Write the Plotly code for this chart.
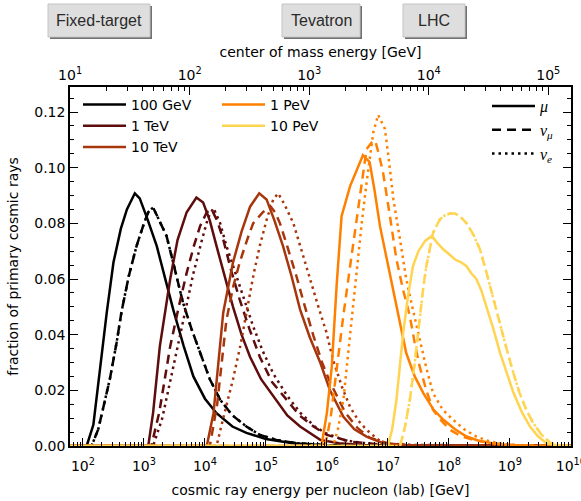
import plotly.graph_objects as go

# ---------------- data (log10 of lab energy per nucleon [GeV], fraction) ----------------
primary_labels = ["100 GeV", "1 TeV", "10 TeV", "1 PeV", "10 PeV"]
primary_colors = ["#000000", "#5e0c0c", "#a8360c", "#ff8000", "#ffd451"]

# 100 GeV
gev100_mu_logE = [1.79, 2.06, 2.17, 2.28, 2.39, 2.50, 2.62, 2.72, 2.85, 2.93, 3.05, 3.21, 3.35, 3.48, 3.65, 3.81, 4.00, 4.19, 4.45, 4.68, 5.00, 5.44, 6.00, 10.0]
gev100_mu_frac = [0.0, 0.0, 0.0076, 0.028, 0.048, 0.066, 0.078, 0.085, 0.0908, 0.089, 0.082, 0.0718, 0.060, 0.049, 0.036, 0.025, 0.017, 0.0118, 0.007, 0.0047, 0.0025, 0.001, 0.0002, 0.0]
gev100_numu_logE = [1.79, 2.14, 2.25, 2.35, 2.44, 2.55, 2.63, 2.75, 2.88, 3.00, 3.07, 3.15, 3.25, 3.37, 3.50, 3.64, 3.78, 3.92, 4.08, 4.25, 4.45, 4.68, 4.90, 5.17, 5.50, 6.00, 10.0]
gev100_numu_frac = [0.0, 0.0, 0.006, 0.015, 0.024, 0.037, 0.048, 0.061, 0.072, 0.080, 0.084, 0.0857, 0.081, 0.0755, 0.064, 0.0515, 0.042, 0.0335, 0.024, 0.0166, 0.011, 0.007, 0.004, 0.0022, 0.001, 0.0003, 0.0]
gev100_nue_logE = [1.79, 2.14, 2.25, 2.35, 2.44, 2.55, 2.63, 2.75, 2.88, 3.00, 3.07, 3.15, 3.25, 3.37, 3.50, 3.64, 3.78, 3.92, 4.08, 4.25, 4.45, 4.68, 4.90, 5.17, 5.50, 6.00, 10.0]
gev100_nue_frac = [0.0, 0.0, 0.006, 0.015, 0.024, 0.037, 0.048, 0.061, 0.072, 0.080, 0.084, 0.0857, 0.081, 0.0755, 0.064, 0.0515, 0.042, 0.0335, 0.024, 0.0166, 0.011, 0.007, 0.004, 0.0022, 0.001, 0.0003, 0.0]

# 1 TeV
tev1_mu_logE = [1.79, 3.07, 3.15, 3.26, 3.43, 3.55, 3.70, 3.86, 3.97, 4.08, 4.19, 4.32, 4.46, 4.60, 4.74, 4.92, 5.12, 5.35, 5.56, 5.89, 6.20, 6.60, 10.0]
tev1_mu_frac = [0.0, 0.0, 0.012, 0.0358, 0.060, 0.074, 0.084, 0.0893, 0.0875, 0.081, 0.0718, 0.061, 0.050, 0.040, 0.032, 0.024, 0.0178, 0.011, 0.007, 0.0022, 0.001, 0.0003, 0.0]
tev1_numu_logE = [1.79, 3.12, 3.25, 3.43, 3.57, 3.70, 3.82, 3.92, 4.03, 4.11, 4.20, 4.30, 4.43, 4.57, 4.73, 4.90, 5.10, 5.34, 5.55, 5.78, 6.00, 6.40, 7.00, 10.0]
tev1_numu_frac = [0.0, 0.0, 0.012, 0.0358, 0.050, 0.0622, 0.072, 0.079, 0.084, 0.085, 0.081, 0.0742, 0.063, 0.0526, 0.042, 0.032, 0.023, 0.0166, 0.011, 0.007, 0.004, 0.0015, 0.0003, 0.0]
tev1_nue_logE = [1.79, 3.15, 3.30, 3.48, 3.65, 3.81, 3.95, 4.05, 4.14, 4.25, 4.35, 4.46, 4.62, 4.79, 4.95, 5.12, 5.35, 5.56, 5.80, 5.99, 6.30, 6.80, 10.0]
tev1_nue_frac = [0.0, 0.0, 0.010, 0.0286, 0.046, 0.062, 0.074, 0.082, 0.0855, 0.080, 0.072, 0.0646, 0.054, 0.043, 0.034, 0.026, 0.018, 0.012, 0.007, 0.0045, 0.002, 0.0005, 0.0]

# 10 TeV
tev10_mu_logE = [1.79, 4.03, 4.14, 4.22, 4.30, 4.46, 4.60, 4.74, 4.89, 5.01, 5.14, 5.28, 5.42, 5.56, 5.72, 5.89, 6.05, 6.27, 6.45, 6.65, 6.90, 7.30, 10.0]
tev10_mu_frac = [0.0, 0.0, 0.0118, 0.030, 0.048, 0.066, 0.077, 0.086, 0.0908, 0.0886, 0.081, 0.0718, 0.061, 0.049, 0.039, 0.030, 0.020, 0.0105, 0.006, 0.0034, 0.0012, 0.0003, 0.0]
tev10_numu_logE = [1.79, 4.08, 4.20, 4.35, 4.46, 4.57, 4.69, 4.79, 4.95, 5.07, 5.15, 5.23, 5.36, 5.50, 5.64, 5.78, 5.92, 6.05, 6.30, 6.50, 6.70, 7.00, 7.40, 10.0]
tev10_numu_frac = [0.0, 0.0, 0.015, 0.045, 0.057, 0.066, 0.074, 0.080, 0.084, 0.0862, 0.084, 0.080, 0.071, 0.061, 0.050, 0.0395, 0.030, 0.023, 0.012, 0.0065, 0.003, 0.001, 0.0002, 0.0]
tev10_nue_logE = [1.79, 4.19, 4.30, 4.46, 4.58, 4.68, 4.80, 4.90, 5.02, 5.12, 5.20, 5.30, 5.45, 5.56, 5.72, 5.86, 5.99, 6.10, 6.25, 6.38, 6.52, 6.65, 6.80, 6.92, 7.20, 10.0]
tev10_nue_frac = [0.0, 0.0, 0.010, 0.024, 0.036, 0.048, 0.062, 0.072, 0.082, 0.0886, 0.0908, 0.087, 0.080, 0.072, 0.060, 0.050, 0.041, 0.031, 0.021, 0.014, 0.009, 0.0058, 0.003, 0.001, 0.0003, 0.0]

# 1 PeV
pev1_mu_logE = [1.79, 5.91, 6.00, 6.08, 6.16, 6.24, 6.38, 6.48, 6.59, 6.70, 6.78, 6.87, 6.98, 7.09, 7.20, 7.30, 7.44, 7.58, 7.75, 7.91, 8.10, 8.29, 8.50, 8.85, 9.30, 10.0]
pev1_mu_frac = [0.0, 0.0, 0.012, 0.0286, 0.058, 0.0826, 0.0934, 0.099, 0.1045, 0.102, 0.092, 0.079, 0.067, 0.055, 0.044, 0.0334, 0.025, 0.019, 0.013, 0.0094, 0.006, 0.0034, 0.0018, 0.0005, 0.0001, 0.0]
pev1_numu_logE = [1.79, 5.97, 6.06, 6.16, 6.27, 6.38, 6.46, 6.54, 6.60, 6.65, 6.73, 6.79, 6.85, 6.92, 7.03, 7.14, 7.25, 7.36, 7.44, 7.52, 7.63, 7.74, 7.88, 8.02, 8.20, 8.40, 8.70, 9.10, 10.0]
pev1_numu_frac = [0.0, 0.0, 0.010, 0.0286, 0.047, 0.0646, 0.077, 0.0886, 0.099, 0.1067, 0.109, 0.1098, 0.105, 0.0983, 0.083, 0.067, 0.056, 0.0466, 0.037, 0.0286, 0.020, 0.013, 0.009, 0.0058, 0.0035, 0.0022, 0.001, 0.0003, 0.0]
pev1_nue_logE = [1.79, 6.10, 6.18, 6.27, 6.38, 6.49, 6.57, 6.65, 6.76, 6.84, 6.95, 7.02, 7.09, 7.20, 7.30, 7.41, 7.52, 7.63, 7.74, 7.90, 8.07, 8.25, 8.45, 8.65, 8.85, 9.20, 10.0]
pev1_nue_frac = [0.0, 0.0, 0.006, 0.0166, 0.040, 0.0646, 0.080, 0.0946, 0.1127, 0.119, 0.114, 0.102, 0.0886, 0.074, 0.060, 0.049, 0.038, 0.028, 0.019, 0.013, 0.0094, 0.006, 0.0034, 0.0018, 0.0008, 0.0002, 0.0]

# 10 PeV
pev10_mu_logE = [1.79, 7.00, 7.07, 7.14, 7.25, 7.33, 7.41, 7.50, 7.61, 7.72, 7.81, 7.91, 8.00, 8.10, 8.20, 8.29, 8.37, 8.45, 8.53, 8.62, 8.73, 8.84, 8.95, 9.06, 9.20, 9.33, 9.46, 9.60, 9.80, 10.0]
pev10_mu_frac = [0.0, 0.0, 0.006, 0.0166, 0.0406, 0.054, 0.0646, 0.070, 0.0737, 0.0755, 0.073, 0.0706, 0.069, 0.067, 0.066, 0.0646, 0.062, 0.060, 0.056, 0.050, 0.042, 0.0334, 0.026, 0.019, 0.012, 0.007, 0.0035, 0.001, 0.0002, 0.0]
pev10_numu_logE = [1.79, 7.20, 7.28, 7.36, 7.44, 7.52, 7.58, 7.63, 7.74, 7.85, 7.94, 8.02, 8.10, 8.18, 8.29, 8.40, 8.51, 8.62, 8.73, 8.84, 8.95, 9.06, 9.16, 9.27, 9.38, 9.52, 9.66, 9.80, 10.0]
pev10_numu_frac = [0.0, 0.0, 0.007, 0.0166, 0.030, 0.0466, 0.057, 0.0646, 0.0766, 0.0814, 0.083, 0.0835, 0.0835, 0.0826, 0.080, 0.076, 0.0706, 0.062, 0.0526, 0.044, 0.0346, 0.026, 0.019, 0.013, 0.0083, 0.004, 0.0012, 0.0003, 0.0]
pev10_nue_logE = [1.79, 7.20, 7.28, 7.36, 7.44, 7.52, 7.58, 7.63, 7.74, 7.85, 7.94, 8.02, 8.10, 8.18, 8.29, 8.40, 8.51, 8.62, 8.73, 8.84, 8.95, 9.06, 9.16, 9.27, 9.38, 9.52, 9.66, 9.80, 10.0]
pev10_nue_frac = [0.0, 0.0, 0.007, 0.0166, 0.030, 0.0466, 0.057, 0.0646, 0.0766, 0.0814, 0.083, 0.0835, 0.0835, 0.0826, 0.080, 0.076, 0.0706, 0.062, 0.0526, 0.044, 0.0346, 0.026, 0.019, 0.013, 0.0083, 0.004, 0.0012, 0.0003, 0.0]

series = [
    [(gev100_mu_logE, gev100_mu_frac), (gev100_numu_logE, gev100_numu_frac), (gev100_nue_logE, gev100_nue_frac)],
    [(tev1_mu_logE, tev1_mu_frac), (tev1_numu_logE, tev1_numu_frac), (tev1_nue_logE, tev1_nue_frac)],
    [(tev10_mu_logE, tev10_mu_frac), (tev10_numu_logE, tev10_numu_frac), (tev10_nue_logE, tev10_nue_frac)],
    [(pev1_mu_logE, pev1_mu_frac), (pev1_numu_logE, pev1_numu_frac), (pev1_nue_logE, pev1_nue_frac)],
    [(pev10_mu_logE, pev10_mu_frac), (pev10_numu_logE, pev10_numu_frac), (pev10_nue_logE, pev10_nue_frac)],
]

lepton_labels = ["<i>μ</i>", "<i>ν</i><sub><i>μ</i></sub>", "<i>ν</i><sub><i>e</i></sub>"]
lepton_dashes = ["solid", "9px,6px", "2.5px,4px"]

lab_tick_exps = [2, 3, 4, 5, 6, 7, 8, 9, 10]
cm_tick_exps = [1, 2, 3, 4, 5]
experiments = ["Fixed-target", "Tevatron", "LHC"]

# ---------------- figure ----------------
W, H = 581, 501
L, R, T, B = 70, 10, 87, 55
PW, PH = W - L - R, H - T - B

def px_x(p):
    return (p - L) / PW

def px_y(p):
    return (H - B - p) / PH

fig = go.Figure()
LW = 2.5
for ci, group in enumerate(series):
    for si, (lx, fr) in enumerate(group):
        fig.add_trace(go.Scatter(
            x=[10 ** v for v in lx], y=fr, mode="lines",
            line=dict(color=primary_colors[ci], width=LW, dash=lepton_dashes[si]),
            showlegend=False, hoverinfo="skip"))

# legend entries (colour legend in two columns) and line-style legend
for ci, lab in enumerate(primary_labels):
    fig.add_trace(go.Scatter(
        x=[None], y=[None], mode="lines", name=lab,
        line=dict(color=primary_colors[ci], width=LW),
        legend="legend" if ci < 3 else "legend2"))
for si, lab in enumerate(lepton_labels):
    fig.add_trace(go.Scatter(
        x=[None], y=[None], mode="lines", name=lab,
        line=dict(color="black", width=LW, dash=lepton_dashes[si]),
        legend="legend3"))

# invisible trace carrying the top (centre-of-mass) axis
fig.add_trace(go.Scatter(x=[10, 1e5], y=[None, None], xaxis="x2", mode="lines",
                         showlegend=False, hoverinfo="skip"))

font_main = "DejaVu Sans"

def minor_vals(lo, hi):
    vals = []
    for d in range(lo, hi):
        for k in range(2, 10):
            vals.append(k * 10 ** d)
    return vals

legend_common = dict(xanchor="left", yanchor="top", bgcolor="rgba(0,0,0,0)",
                     borderwidth=0, itemwidth=43, tracegroupgap=0)

fig.update_layout(
    width=W, height=H, template="none",
    margin=dict(l=L, r=R, t=T, b=B),
    paper_bgcolor="white", plot_bgcolor="white",
    font=dict(family=font_main, size=14, color="black"),
    xaxis=dict(
        type="log", range=[1.787, 10.002], showgrid=False, zeroline=False,
        showline=True, linecolor="black", linewidth=1.5, mirror=False,
        ticks="inside", ticklen=8, tickwidth=1, tickcolor="black",
        tickvals=[10 ** e for e in lab_tick_exps],
        ticktext=[f"10<sup>{e}</sup>" for e in lab_tick_exps],
        ticklabelstandoff=6, ticklabeloverflow="allow",
        minor=dict(tickvals=minor_vals(1, 10), ticks="inside", ticklen=4, tickcolor="black", showgrid=False),
        title=dict(text="cosmic ray energy per nucleon (lab) [GeV]", standoff=13, font=dict(size=14)),
        automargin=False,
    ),
    xaxis2=dict(
        type="log", range=[0.999, 5.19], overlaying="x", side="top", anchor="y",
        showgrid=False, zeroline=False,
        showline=True, linecolor="black", linewidth=1.5,
        ticks="inside", ticklen=8, tickwidth=1, tickcolor="black",
        tickvals=[10 ** e for e in cm_tick_exps],
        ticktext=[f"10<sup>{e}</sup>" for e in cm_tick_exps],
        ticklabeloverflow="allow",
        minor=dict(tickvals=minor_vals(1, 6), ticks="inside", ticklen=4, tickcolor="black", showgrid=False),
        title=dict(text="center of mass energy [GeV]", standoff=4, font=dict(size=14)),
        automargin=False,
    ),
    yaxis=dict(
        range=[0, 0.129], showgrid=False, zeroline=False,
        showline=True, linecolor="black", linewidth=1.5, mirror="ticks",
        ticks="inside", ticklen=8, tickwidth=1, tickcolor="black",
        tickvals=[0, 0.02, 0.04, 0.06, 0.08, 0.10, 0.12], tickformat=".2f",
        minor=dict(dtick=0.005, ticks="inside", ticklen=4, tickcolor="black", showgrid=False),
        title=dict(text="fraction of primary cosmic rays", standoff=12, font=dict(size=14)),
        automargin=False,
    ),
    legend=dict(x=px_x(78), y=px_y(89), font=dict(family=font_main, size=14), **legend_common),
    legend2=dict(x=px_x(217), y=px_y(89), font=dict(family=font_main, size=14), **legend_common),
    legend3=dict(x=px_x(487), y=px_y(89), font=dict(family="Liberation Serif", size=16), **legend_common),
)

# experiment boxes above the plot (box + drop shadow as shapes, label as text)
box_left_px = [48, 282, 403]
box_right_px = [150, 360, 465]
box_top_px, box_bottom_px = 4, 37
for name, x0, x1 in zip(experiments, box_left_px, box_right_px):
    fig.add_shape(type="rect", xref="paper", yref="paper",
                  x0=px_x(x0 + 2), x1=px_x(x1 + 2), y0=px_y(box_bottom_px + 2), y1=px_y(box_top_px + 2),
                  fillcolor="#707070", line=dict(width=0), layer="above")
    fig.add_shape(type="rect", xref="paper", yref="paper",
                  x0=px_x(x0), x1=px_x(x1), y0=px_y(box_bottom_px), y1=px_y(box_top_px),
                  fillcolor="#dedede", line=dict(color="#c4c4c4", width=1), layer="above")
    fig.add_annotation(
        x=px_x((x0 + x1) / 2), y=px_y((box_top_px + box_bottom_px) / 2),
        xref="paper", yref="paper", text=name, showarrow=False,
        font=dict(family="Liberation Sans", size=16, color="#2a2a2a"),
        xanchor="center", yanchor="middle")

fig.write_html("out.html", config={"displayModeBar": False},
               post_script="document.body.style.margin='0';")
